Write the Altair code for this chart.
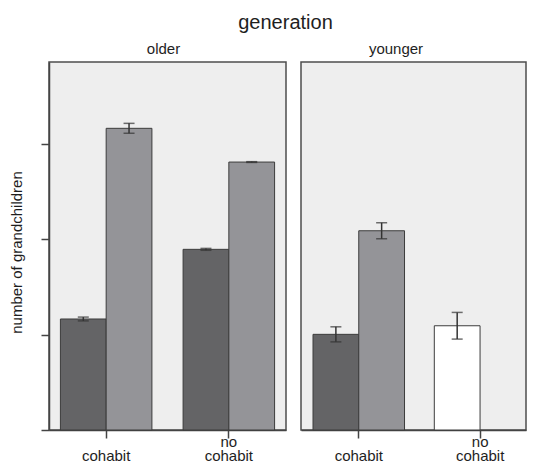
import altair as alt
import pandas as pd

# ---- data ----
generation = ["older", "older", "older", "older", "younger", "younger", "younger"]
cohab = ["cohabit", "cohabit", "no cohabit", "no cohabit", "cohabit", "cohabit", "no cohabit"]
slot = [0, 1, 0, 1, 0, 1, 0]
series = ["group 1", "group 2", "group 1", "group 2", "group 1", "group 2", "group 3"]
value = [1.165, 3.166, 1.896, 2.812, 1.004, 2.091, 1.094]
err = [0.02, 0.052, 0.01, 0.004, 0.079, 0.084, 0.14]

cats = ["cohabit", "no cohabit"]
series_names = ["group 1", "group 2", "group 3"]
series_colors = ["#646466", "#949498", "#ffffff"]
y_ticks = [0, 1, 2, 3]
y_max = 3.862

df = pd.DataFrame({
    "generation": generation,
    "cohab": cohab,
    "slot": slot,
    "series": series,
    "value": value,
    "lo": [v - e for v, e in zip(value, err)],
    "hi": [v + e for v, e in zip(value, err)],
})

FONT = "Liberation Sans"
INK = "#333333"
TXT = "#1e1e1e"


def panel(gen, width, xscale, show_y, title_dx):
    d = df[df["generation"] == gen]
    x = alt.X(
        "cohab:N",
        sort=cats,
        scale=xscale,
        title=None,
        axis=alt.Axis(
            labelExpr="peek(split(datum.value, ' '))",
            labelAngle=0,
            labelFontSize=15,
            labelFont=FONT,
            labelColor=TXT,
            labelBaseline="alphabetic",
            labelPadding=22,
            tickSize=8,
            tickColor="#444444",
            tickWidth=1.5,
            domainColor="#444444",
            domainWidth=1.5,
            grid=False,
        ),
    )
    xo = alt.XOffset("slot:N", scale=alt.Scale(domain=[0, 1], paddingInner=0, paddingOuter=0))
    yscale = alt.Scale(domain=[0, y_max], nice=False, zero=True)
    if show_y:
        yaxis = alt.Axis(
            values=y_ticks,
            labels=False,
            tickSize=8,
            tickColor="#444444",
            tickWidth=1.5,
            domainColor="#444444",
            domainWidth=1.5,
            grid=False,
            title="number of grandchildren",
            titleFontSize=15,
            titleFont=FONT,
            titleFontWeight="normal",
            titleColor=TXT,
            titleAngle=270,
            titleX=-28,
            titleY=190,
            titleBaseline="alphabetic",
            titleAlign="center",
        )
    else:
        yaxis = None

    base = alt.Chart(d)
    bars = base.mark_bar(stroke="#3c3c3c", strokeWidth=1).encode(
        x=x,
        xOffset=xo,
        y=alt.Y("value:Q", scale=yscale, axis=yaxis),
        color=alt.Color("series:N", scale=alt.Scale(domain=series_names, range=series_colors), legend=None),
    )
    rules = base.mark_rule(color=INK, strokeWidth=1.5).encode(
        x=x, xOffset=xo, y="lo:Q", y2="hi:Q"
    )
    cap_lo = base.mark_tick(color=INK, thickness=1.5, size=11).encode(x=x, xOffset=xo, y="lo:Q")
    cap_hi = base.mark_tick(color=INK, thickness=1.5, size=11).encode(x=x, xOffset=xo, y="hi:Q")
    # first word of a two-word category label ("no"), shown above the axis label
    first_word = base.transform_filter(
        "datum.slot == 0 && indexof(datum.cohab, ' ') > 0"
    ).transform_calculate(
        first="split(datum.cohab, ' ')[0]"
    ).mark_text(
        fontSize=15, font=FONT, color=TXT, baseline="alphabetic", align="center"
    ).encode(
        x=x, y=alt.value(385), text="first:N"
    )

    return alt.layer(bars, rules, cap_lo, cap_hi, first_word).properties(
        width=width,
        height=368,
        title=alt.Title(
            gen, fontSize=15, font=FONT, fontWeight="normal", color=TXT,
            anchor="middle", frame="group", baseline="alphabetic",
            offset=-7, dx=title_dx,
        ),
    )


left = panel("older", 237,
             alt.Scale(domain=cats, paddingInner=0.254, paddingOuter=0.093), True, -4)
right = panel("younger", 225,
              alt.Scale(domain=cats, paddingInner=0.244, paddingOuter=0.0495, align=1), False, -17.5)

chart = alt.hconcat(
    left, right, spacing=13,
    title=alt.Title("generation", fontSize=20, font=FONT, fontWeight="normal", color=TXT,
                    anchor="middle", baseline="alphabetic", offset=-7.7, dx=18),
).resolve_scale(y="shared", x="independent").properties(
    padding={"left": 0, "top": 4, "right": 0, "bottom": 0}
).configure(
    font=FONT, background="white",
).configure_view(
    fill="#eeeeee", stroke="#4d4d4d", strokeWidth=1.5,
)

chart.save("out.html", embed_options={"renderer": "svg", "actions": False})
